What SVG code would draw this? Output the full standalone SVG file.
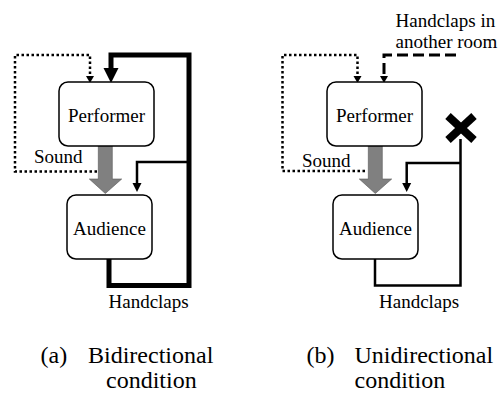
<svg xmlns="http://www.w3.org/2000/svg" width="498" height="396" viewBox="0 0 498 396">
<style>
.box{fill:#fff;stroke:#000;stroke-width:1.5}
.t{font-family:"Liberation Serif","Times New Roman",serif;font-size:19px;fill:#000}
.cap{font-family:"Liberation Serif","Times New Roman",serif;font-size:24px;fill:#000}
.thick{fill:none;stroke:#000;stroke-width:5}
.thin{fill:none;stroke:#000;stroke-width:2.5}
.dot{fill:none;stroke:#000;stroke-width:2.5;stroke-dasharray:2.5 2.5}
.dash{fill:none;stroke:#000;stroke-width:3;stroke-dasharray:11 5}
.grey{fill:#808080;stroke:#555;stroke-width:0.6}
</style>
<rect width="498" height="396" fill="#fff"/>
<g id="connectors">
  <path class="dot" d="M97 171.5 H15 V55 H90 V76"/>
  <polygon points="86,76 94,76 90,83"/>
  <path class="thick" d="M109 259 V285.5 H189 V55 H111 V68"/>
  <polygon points="103.5,68 118.5,68 111,83"/>
  <path class="thin" d="M189 162 H137 V183"/>
  <polygon points="132.5,183 141.5,183 137,192"/>
  <polygon class="grey" points="98.3,146 112.3,146 112.3,179 121.7,179 105.3,193.5 89.3,179 98.3,179"/>
  <path class="dot" d="M365 171 H282.5 V55 H357.5 V76"/>
  <polygon points="353.5,76 361.5,76 357.5,83"/>
  <path class="dash" d="M456 55 H384 V76"/>
  <polygon points="380,76 388,76 384,83"/>
  <path class="thin" d="M375 259 V285.5 H460.5 V139"/>
  <path class="thin" d="M460.5 163 H406.7 V183"/>
  <polygon points="402.2,183 411.2,183 406.7,192"/>
  <polygon class="grey" points="368.3,146 382.3,146 382.3,179 391.7,179 375.3,193.5 359.3,179 368.3,179"/>
  <g id="cross" stroke="#000" stroke-width="8">
    <line x1="448" y1="116" x2="474" y2="140"/>
    <line x1="474" y1="116" x2="448" y2="140"/>
  </g>
</g>
<g id="performer-a">
  <rect class="box" x="59" y="82" width="95" height="64" rx="9"/>
  <text class="t" x="106.5" y="122" text-anchor="middle">Performer</text>
</g>
<g id="audience-a">
  <rect class="box" x="67" y="195" width="85" height="64" rx="9"/>
  <text class="t" x="109.5" y="235" text-anchor="middle">Audience</text>
</g>
<g id="performer-b">
  <rect class="box" x="327" y="82" width="95" height="64" rx="9"/>
  <text class="t" x="374.5" y="122" text-anchor="middle">Performer</text>
</g>
<g id="audience-b">
  <rect class="box" x="333" y="195" width="85" height="64" rx="9"/>
  <text class="t" x="375.5" y="235" text-anchor="middle">Audience</text>
</g>
<g id="labels">
  <text class="t" x="34" y="163">Sound</text>
  <text class="t" x="108.5" y="308">Handclaps</text>
  <text class="t" x="302" y="167">Sound</text>
  <text class="t" x="379" y="308">Handclaps</text>
  <text class="t" x="395.5" y="26.5">Handclaps in</text>
  <text class="t" x="395.5" y="47.5">another room</text>
  <text class="cap" x="40.5" y="363">(a)</text>
  <text class="cap" x="88" y="363">Bidirectional</text>
  <text class="cap" x="106" y="388">condition</text>
  <text class="cap" x="306.5" y="363">(b)</text>
  <text class="cap" x="354.5" y="363">Unidirectional</text>
  <text class="cap" x="354.5" y="388">condition</text>
</g>
</svg>
